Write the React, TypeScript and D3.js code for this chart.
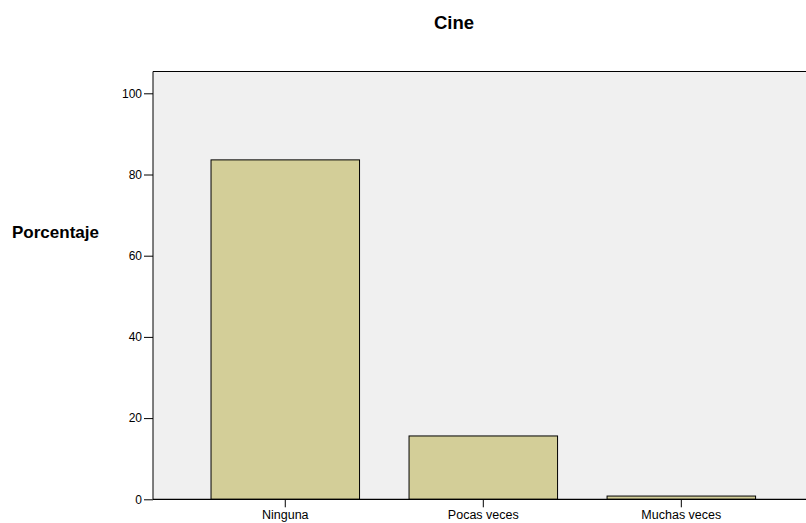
import React, { useEffect, useRef } from "react";
import * as d3 from "d3";

const categories = ["Ninguna", "Pocas veces", "Muchas veces"];
const values = [83.6, 15.6, 0.8];
const yTicks = [0, 20, 40, 60, 80, 100];
const title = "Cine";
const yLabel = "Porcentaje";

const W = 806;
const H = 523;
const plotLeft = 153;
const plotRight = 813.6;
const plotTop = 71.5;
const plotBottom = 499.3;

export default function App() {
  const ref = useRef<SVGSVGElement | null>(null);

  useEffect(() => {
    const svg = d3.select(ref.current);
    svg.selectAll("*").remove();
    const font = "'Liberation Sans', Arial, sans-serif";

    const x = d3
      .scaleBand<string>()
      .domain(categories)
      .range([plotLeft, plotRight])
      .paddingInner(0.25)
      .paddingOuter(0.293);
    const y = d3
      .scaleLinear()
      .domain([0, 100])
      .range([plotBottom, plotBottom - 406]);

    svg
      .append("rect")
      .attr("x", plotLeft)
      .attr("y", plotTop)
      .attr("width", plotRight - plotLeft)
      .attr("height", plotBottom - plotTop)
      .attr("fill", "#f0f0f0");

    svg
      .append("text")
      .attr("x", 454)
      .attr("y", 29)
      .attr("text-anchor", "middle")
      .attr("font-family", font)
      .attr("font-weight", "bold")
      .attr("font-size", 18.5)
      .text(title);

    svg
      .append("text")
      .attr("x", 12)
      .attr("y", 238)
      .attr("font-family", font)
      .attr("font-weight", "bold")
      .attr("font-size", 17)
      .text(yLabel);

    svg
      .selectAll("rect.bar")
      .data(values)
      .enter()
      .append("rect")
      .attr("class", "bar")
      .attr("x", (_, i) => x(categories[i])!)
      .attr("y", (d) => y(d))
      .attr("width", x.bandwidth())
      .attr("height", (d) => plotBottom - y(d))
      .attr("fill", "#d3ce98")
      .attr("stroke", "#000")
      .attr("stroke-width", 1);

    // top border
    svg
      .append("line")
      .attr("x1", plotLeft)
      .attr("x2", plotRight)
      .attr("y1", plotTop)
      .attr("y2", plotTop)
      .attr("stroke", "#000")
      .attr("stroke-width", 1.2);

    const yAxis = d3
      .axisLeft(y)
      .tickValues(yTicks)
      .tickSize(9)
      .tickPadding(2)
      .tickSizeOuter(0);
    const gy = svg
      .append("g")
      .attr("transform", `translate(${plotLeft},0)`)
      .call(yAxis);
    gy.select(".domain").attr("d", `M0,${plotTop}V${plotBottom}`);
    gy.selectAll("text").attr("font-family", font).attr("font-size", 12).attr("fill", "#000");

    const xAxis = d3.axisBottom(x).tickSize(8).tickPadding(3).tickSizeOuter(0);
    const gx = svg
      .append("g")
      .attr("transform", `translate(0,${plotBottom})`)
      .call(xAxis);
    gx.select(".domain").attr("d", `M${plotLeft},0H${plotRight}`).attr("stroke-width", 1.3);
    gx.selectAll("text").attr("font-family", font).attr("font-size", 12.5).attr("fill", "#000");
  }, []);

  return (
    <div style={{ position: "fixed", left: 0, top: 0, width: W, height: H, overflow: "hidden", background: "#fff" }}>
      <svg ref={ref} width={W} height={H} style={{ display: "block" }} />
    </div>
  );
}
